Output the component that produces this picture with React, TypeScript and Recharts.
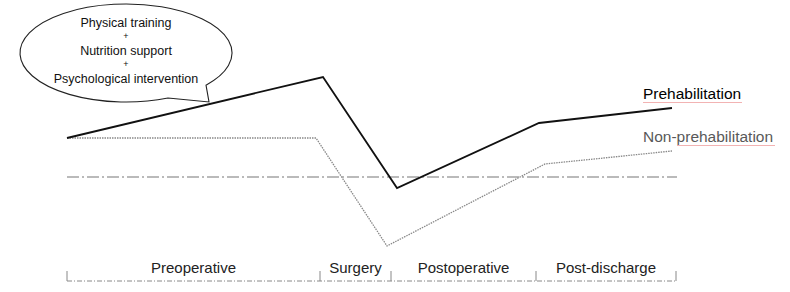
import React from "react";
import { ComposedChart, Line, XAxis, YAxis, ReferenceLine, ReferenceDot } from "recharts";

// Timeline positions (t) and relative functional capacity (v, 0 = baseline)
const prehabT = [67, 323, 397, 539, 672];
const prehabV = [39, 100, -11, 54, 69];
const nonPrehabT = [67, 316, 387, 545, 672];
const nonPrehabV = [39, 39, -69, 13, 26];

// Phase boundaries along the timeline and their names
const phaseBounds = [67, 320, 391, 536, 676];
const phaseNames = ["Preoperative", "Surgery", "Postoperative", "Post-discharge"];

const calloutLines = ["Physical training", "+", "Nutrition support", "+", "Psychological intervention"];
const calloutAnchor = { t: 209, v: 75 };

const baselineV = 0;
const baselineRange = [67, 677];
const bracketV = -104;
const bracketTickV = -94;

const seriesNames = ["Prehabilitation", "Non-prehabilitation"];

const prehabData = prehabT.map((t, i) => ({ t, v: prehabV[i] }));
const nonPrehabData = nonPrehabT.map((t, i) => ({ t, v: nonPrehabV[i] }));

const FONT = "'Liberation Sans', Arial, sans-serif";

const Callout = (props: any) => {
  const { cx, cy } = props;
  // ellipse centre relative to the wedge tip
  const ex = cx - 83;
  const ey = cy - 49;
  const rx = 106;
  const ry = 49;
  const ax = ex + 80;
  const ay = ey + ry * Math.sqrt(1 - (80 / rx) ** 2);
  const bx = ex + 42;
  const by = ey + ry * Math.sqrt(1 - (42 / rx) ** 2);
  const d = `M ${ax} ${ay} A ${rx} ${ry} 0 1 0 ${bx} ${by} L ${cx} ${cy} Z`;
  const lineY = [-30, -17, -2, 11, 26];
  return (
    <g>
      <path d={d} fill="#fff" stroke="#222" strokeWidth={1.1} />
      {calloutLines.map((s, i) => (
        <text
          key={i}
          x={ex}
          y={ey + lineY[i]}
          textAnchor="middle"
          dominantBaseline="central"
          fontFamily={FONT}
          fontSize={s === "+" ? 9 : 12.5}
          fill="#111"
        >
          {s}
        </text>
      ))}
    </g>
  );
};

const SeriesLabel = (props: any) => {
  const { cx, cy, text, color, underlineFrom } = props;
  const x = cx - 29;
  const y = cy - 9;
  const w = text === seriesNames[0] ? 99 : 132;
  return (
    <g>
      <line x1={x + underlineFrom} x2={x + w} y1={y + 3.5} y2={y + 3.5} stroke="#f2b3b3" strokeWidth={1} />
      <text x={x} y={y} fontFamily={FONT} fontSize={15.5} fill={color}>
        {text}
      </text>
    </g>
  );
};

const PhaseLabel = (props: any) => {
  const { cx, cy, text } = props;
  return (
    <text x={cx} y={cy - 8} textAnchor="middle" fontFamily={FONT} fontSize={15} fill="#222">
      {text}
    </text>
  );
};

export default function App() {
  return (
    <div style={{ position: "absolute", left: 0, top: 0, width: 790, height: 292, background: "#fff" }}>
      <ComposedChart width={790} height={292} margin={{ top: 0, right: 0, bottom: 0, left: 0 }}>
        <XAxis type="number" dataKey="t" domain={[0, 790]} hide allowDataOverflow />
        <YAxis type="number" dataKey="v" domain={[-115, 177]} hide allowDataOverflow />

        <ReferenceLine
          segment={[
            { x: baselineRange[0], y: baselineV },
            { x: baselineRange[1], y: baselineV },
          ]}
          stroke="#777"
          strokeWidth={1.2}
          strokeDasharray="12 3 2 3"
        />

        <ReferenceLine
          segment={[
            { x: phaseBounds[0], y: bracketV },
            { x: phaseBounds[phaseBounds.length - 1], y: bracketV },
          ]}
          stroke="#888"
          strokeWidth={1}
          strokeDasharray="5 2 1 2"
        />
        {phaseBounds.map((b) => (
          <ReferenceLine
            key={`tick-${b}`}
            segment={[
              { x: b, y: bracketV },
              { x: b, y: bracketTickV },
            ]}
            stroke="#888"
            strokeWidth={1}
          />
        ))}
        {phaseNames.map((name, i) => (
          <ReferenceDot
            key={name}
            x={(phaseBounds[i] + phaseBounds[i + 1]) / 2}
            y={bracketV}
            r={0}
            shape={(p: any) => <PhaseLabel {...p} text={name} />}
          />
        ))}

        <Line
          data={nonPrehabData}
          dataKey="v"
          type="linear"
          stroke="#888"
          strokeWidth={1.3}
          strokeDasharray="1.5 1"
          dot={false}
          activeDot={false}
          isAnimationActive={false}
        />
        <Line
          data={prehabData}
          dataKey="v"
          type="linear"
          stroke="#111"
          strokeWidth={1.8}
          dot={false}
          activeDot={false}
          isAnimationActive={false}
        />

        <ReferenceDot
          x={prehabT[prehabT.length - 1]}
          y={prehabV[prehabV.length - 1]}
          r={0}
          shape={(p: any) => <SeriesLabel {...p} text={seriesNames[0]} color="#000" underlineFrom={0} />}
        />
        <ReferenceDot
          x={nonPrehabT[nonPrehabT.length - 1]}
          y={nonPrehabV[nonPrehabV.length - 1]}
          r={0}
          shape={(p: any) => <SeriesLabel {...p} text={seriesNames[1]} color="#595959" underlineFrom={34} />}
        />

        <ReferenceDot
          x={calloutAnchor.t}
          y={calloutAnchor.v}
          r={0}
          shape={(p: any) => <Callout {...p} />}
        />
      </ComposedChart>
    </div>
  );
}
